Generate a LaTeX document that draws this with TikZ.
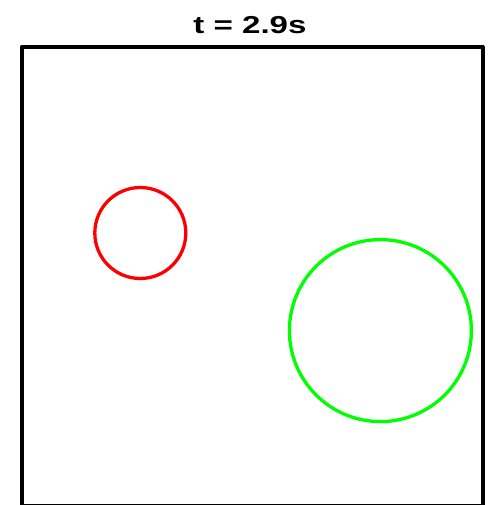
\documentclass[tikz,border=0pt]{standalone}
\usepackage{fontspec}
\setmainfont{Liberation Sans}
\usetikzlibrary{positioning}
\tikzset{
  frame/.style={draw=black, line width=4pt, line join=round},
  ball/.style={circle, line width=3.3pt, inner sep=0pt},
  title/.style={font=\fontsize{24.5}{28}\selectfont\bfseries, inner sep=0pt, anchor=base, xscale=1.35}
}
\begin{document}
\begin{tikzpicture}[x=1pt, y=-1pt]
    \useasboundingbox (0,0) rectangle (487,505);
    \coordinate (nw) at (21.5,47);
    \coordinate (se) at (482.5,506);
    \node[title] (tlabel) at (250,33.5) {t = 2.9s};

    \draw[frame] (nw) rectangle (se);

    \node[ball, draw=red, minimum size=91pt] (redball) at (140.3,233) {};
    \node[ball, draw=green, minimum size=182pt] (greenball) at (380.4,330.6) {};
  \end{tikzpicture}
\end{document}
